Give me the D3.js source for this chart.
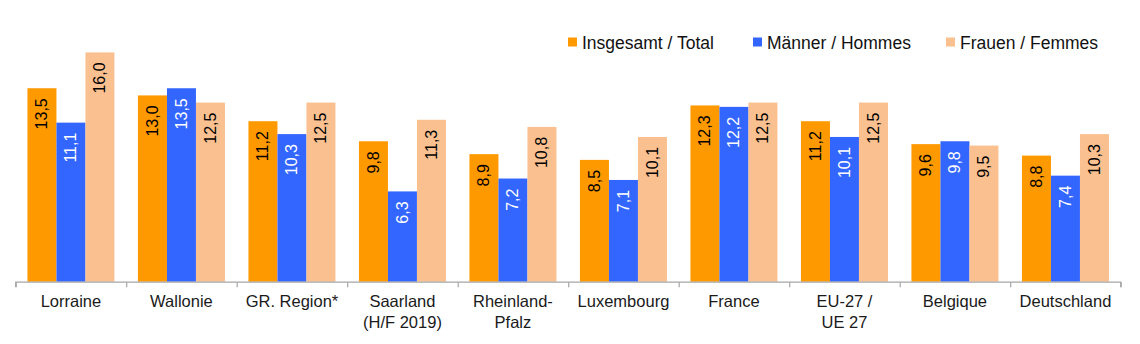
<!DOCTYPE html>
<html>
<head>
<meta charset="utf-8">
<script src="https://cdn.jsdelivr.net/npm/d3@7"></script>
<style>
  html, body { margin: 0; padding: 0; background: #fff; }
  svg { display: block; font-family: "Liberation Sans", Arial, sans-serif; }
</style>
</head>
<body>
<svg id="chart" width="1140" height="344"></svg>
<script>
const categories = [
  ["Lorraine"], ["Wallonie"], ["GR. Region*"], ["Saarland", "(H/F 2019)"],
  ["Rheinland-", "Pfalz"], ["Luxembourg"], ["France"], ["EU-27 /", "UE 27"],
  ["Belgique"], ["Deutschland"]
];
const seriesNames = ["Insgesamt / Total", "Männer / Hommes", "Frauen / Femmes"];
const insgesamt = [13.5, 13.0, 11.2, 9.8, 8.9, 8.5, 12.3, 11.2, 9.6, 8.8];
const maenner   = [11.1, 13.5, 10.3, 6.3, 7.2, 7.1, 12.2, 10.1, 9.8, 7.4];
const frauen    = [16.0, 12.5, 12.5, 11.3, 10.8, 10.1, 12.5, 12.5, 9.5, 10.3];
const colors = ["#FF9900", "#3366FF", "#FAC090"];
const labelColors = ["#000", "#fff", "#000"];

const series = [insgesamt, maenner, frauen];
const svg = d3.select("#chart");
const x0 = 15.7, x1 = 1120.7, yBase = 281.7, pxPerUnit = 14.33;
const maxVal = 18;

const x = d3.scaleBand().domain(d3.range(categories.length)).range([x0, x1]).paddingInner(0).paddingOuter(0);
const inner = d3.scaleBand().domain(d3.range(series.length)).range([0, x.bandwidth()]).paddingOuter(0.405).paddingInner(0);
const y = d3.scaleLinear().domain([0, maxVal]).range([yBase, yBase - maxVal * pxPerUnit]);

const fmt = v => d3.format(".1f")(v).replace(".", ",");

// bars
series.forEach((vals, si) => {
  const g = svg.append("g");
  g.selectAll("rect").data(vals).join("rect")
    .attr("x", (d, i) => x(i) + inner(si))
    .attr("y", d => y(d))
    .attr("width", inner.bandwidth())
    .attr("height", d => yBase - y(d))
    .attr("fill", colors[si]);
  g.selectAll("text").data(vals).join("text")
    .attr("transform", (d, i) => {
      const cx = x(i) + inner(si) + inner.bandwidth() / 2;
      const ty = y(d) + 10;
      return `translate(${cx},${ty}) rotate(-90)`;
    })
    .attr("text-anchor", "end")
    .attr("dominant-baseline", "central")
    .attr("font-size", 16)
    .attr("fill", labelColors[si])
    .text(d => fmt(d));
});

// axis
const axis = d3.axisBottom(d3.scaleLinear().domain([0, categories.length]).range([x0, x1]))
  .tickValues(d3.range(categories.length + 1)).tickSize(5).tickFormat("");
const ax = svg.append("g").attr("transform", `translate(0,${yBase + 0.5})`).call(axis);
ax.selectAll("path, line").attr("stroke", "#A6A6A6").attr("stroke-width", 1.2);
ax.select(".domain").attr("d", `M${x0},5V0H${x1}V5`);

// category labels
const cl = svg.append("g");
categories.forEach((lines, i) => {
  const t = cl.append("text")
    .attr("x", x(i) + x.bandwidth() / 2)
    .attr("y", 306.5)
    .attr("text-anchor", "middle")
    .attr("font-size", 16.5)
    .attr("fill", "#1a1a1a");
  lines.forEach((ln, k) => {
    t.append("tspan").attr("x", x(i) + x.bandwidth() / 2).attr("dy", k === 0 ? 0 : 21).text(ln);
  });
});

// legend
const legendX = [568, 753, 946];
const lg = svg.append("g");
seriesNames.forEach((name, si) => {
  lg.append("rect").attr("x", legendX[si]).attr("y", 37.5).attr("width", 9).attr("height", 9).attr("fill", colors[si]);
  lg.append("text").attr("x", legendX[si] + 14).attr("y", 48.5)
    .attr("font-size", 17.5).attr("fill", "#111").text(name);
});
</script>
</body>
</html>
